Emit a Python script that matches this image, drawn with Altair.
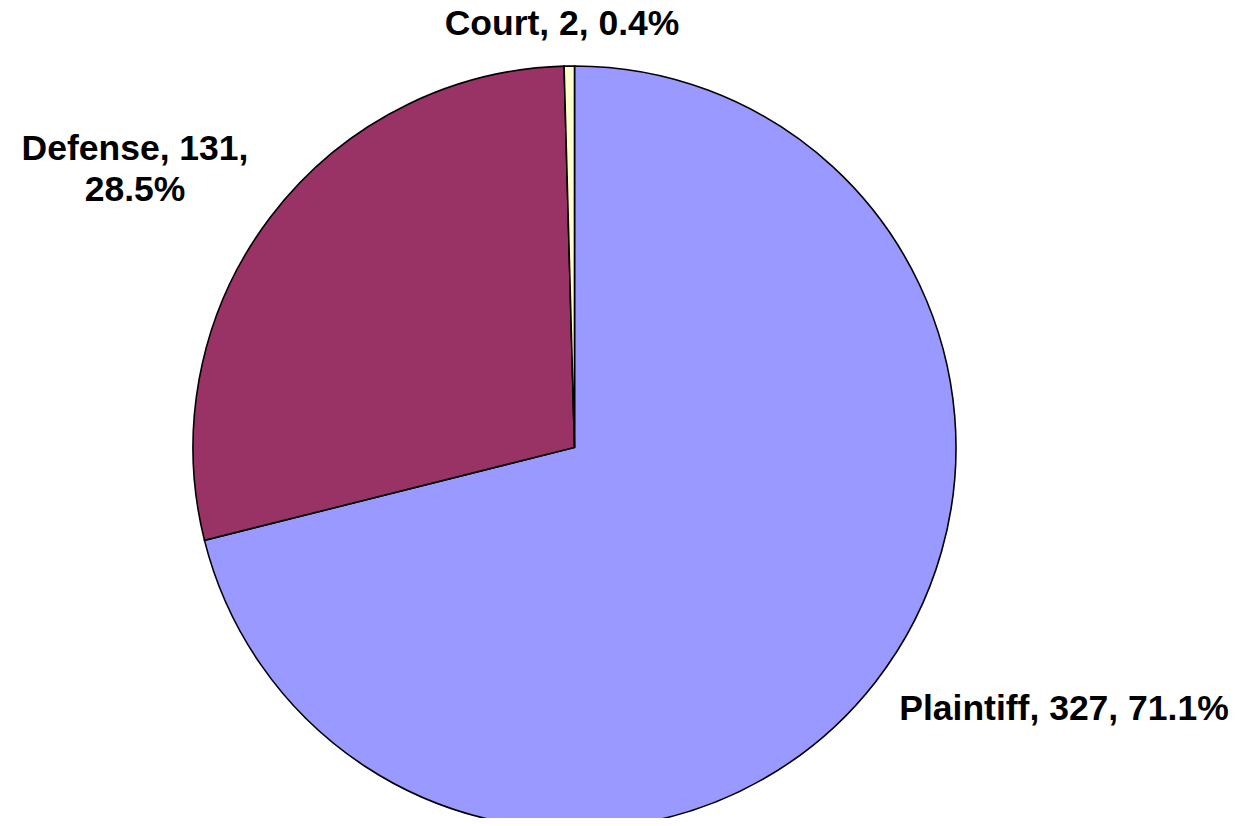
import altair as alt
import pandas as pd

categories = ["Plaintiff", "Defense", "Court"]
counts = [327, 131, 2]
percents = ["71.1%", "28.5%", "0.4%"]
colors = ["#9999FF", "#993366", "#FFFFCC"]

df = pd.DataFrame({
    "category": categories,
    "count": counts,
    "pct": percents,
    "order": list(range(len(categories))),
})

PAD_TOP = 10
CX, CY, R = 566.5, 447.5 - 8 - PAD_TOP, 381.5

pie = alt.Chart(df).mark_arc(
    outerRadius=R, stroke="#000000", strokeWidth=1.6
).encode(
    theta=alt.Theta("count:Q", stack=True),
    order=alt.Order("order:Q"),
    color=alt.Color("category:N",
                    scale=alt.Scale(domain=categories, range=colors),
                    legend=None),
    x=alt.value(CX),
    y=alt.value(CY),
)

font = dict(font="Liberation Sans", fontSize=35.5, fontWeight="bold",
            color="#000000", align="center", baseline="alphabetic")


def label(cat, x, y, two_lines=False):
    base = alt.Chart(df).transform_filter(alt.datum.category == cat)
    if two_lines:
        expr = "[datum.category + ', ' + datum.count + ',', datum.pct]"
        return base.transform_calculate(lbl=expr).mark_text(
            lineHeight=41, **font
        ).encode(text="lbl:N", x=alt.value(x), y=alt.value(y))
    expr = "datum.category + ', ' + datum.count + ', ' + datum.pct"
    return base.transform_calculate(lbl=expr).mark_text(**font).encode(
        text="lbl:N", x=alt.value(x), y=alt.value(y))


labels = [
    label("Plaintiff", 1056, 720 - 8 - PAD_TOP),
    label("Defense", 127, 160 - 8 - PAD_TOP, two_lines=True),
    label("Court", 554, 35 - 8 - PAD_TOP),
]

chart = alt.layer(pie, *labels).properties(
    width=1229, height=810 - PAD_TOP,
    autosize=alt.AutoSizeParams(type="none"),
    padding={"top": PAD_TOP, "left": 0, "right": 0, "bottom": 0},
).configure_view(stroke=None)

chart.save("out.html", embed_options={"renderer": "svg", "actions": False})
